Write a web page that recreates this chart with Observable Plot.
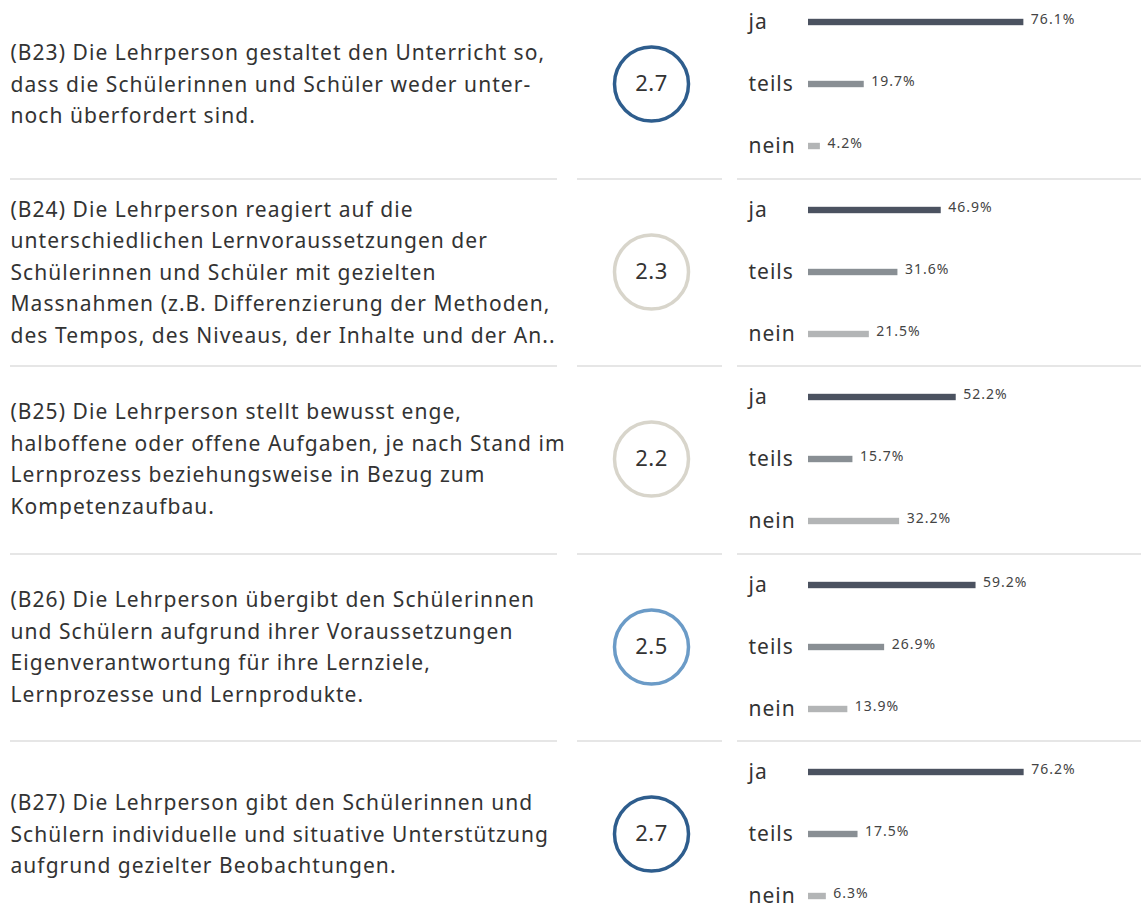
<!DOCTYPE html>
<html>
<head>
<meta charset="utf-8">
<script src="https://cdn.jsdelivr.net/npm/d3@7"></script>
<script src="https://cdn.jsdelivr.net/npm/@observablehq/plot@0.6"></script>
<style>
  html, body { margin: 0; padding: 0; background: #fff; }
  #chart { position: relative; width: 1141px; height: 906px; overflow: hidden; font-family: "Noto Sans", sans-serif; }
  .row { position: absolute; left: 0; width: 1141px; height: 187.5px; }
  .cell { position: absolute; top: 0; }
  .sep { position: absolute; height: 2px; background: #e6e6e6; }
  svg { display: block; }
</style>
</head>
<body>
<div id="chart"></div>
<script>
const questionIds = ["B23", "B24", "B25", "B26", "B27"];
const questionTexts = [
  "(B23) Die Lehrperson gestaltet den Unterricht so,\ndass die Schülerinnen und Schüler weder unter-\nnoch überfordert sind.",
  "(B24) Die Lehrperson reagiert auf die\nunterschiedlichen Lernvoraussetzungen der\nSchülerinnen und Schüler mit gezielten\nMassnahmen (z.B. Differenzierung der Methoden,\ndes Tempos, des Niveaus, der Inhalte und der An..",
  "(B25) Die Lehrperson stellt bewusst enge,\nhalboffene oder offene Aufgaben, je nach Stand im\nLernprozess beziehungsweise in Bezug zum\nKompetenzaufbau.",
  "(B26) Die Lehrperson übergibt den Schülerinnen\nund Schülern aufgrund ihrer Voraussetzungen\nEigenverantwortung für ihre Lernziele,\nLernprozesse und Lernprodukte.",
  "(B27) Die Lehrperson gibt den Schülerinnen und\nSchülern individuelle und situative Unterstützung\naufgrund gezielter Beobachtungen."
];
const scores = [2.7, 2.3, 2.2, 2.5, 2.7];
const categories = ["ja", "teils", "nein"];
const jaValues = [76.1, 46.9, 52.2, 59.2, 76.2];
const teilsValues = [19.7, 31.6, 15.7, 26.9, 17.5];
const neinValues = [4.2, 21.5, 32.2, 13.9, 6.3];

const barColors = ["#4b5260", "#898f94", "#b3b5b6"];
const scoreColors = ["#d8d5cb", "#6b9bc7", "#2e5d8d"];
const scoreThresholds = [2.4, 2.6];

const font = "Noto Sans";
const rowH = 187.5;
const chart = document.getElementById("chart");

questionIds.forEach((id, i) => {
  const row = document.createElement("div");
  row.className = "row";
  row.style.top = (-9 + i * rowH) + "px";
  chart.appendChild(row);

  // question text
  const textCell = document.createElement("div");
  textCell.className = "cell";
  textCell.style.left = "0px";
  textCell.appendChild(Plot.plot({
    width: 575, height: 188, margin: 0,
    style: {fontFamily: font, background: "transparent", letterSpacing: "1.05px"},
    marks: [
      Plot.text([questionTexts[i]], {
        text: d => d, frameAnchor: "left", dx: 10, dy: -4, textAnchor: "start",
        lineAnchor: "middle", fontSize: 21, lineHeight: 1.5, fill: "#333"
      })
    ]
  }));
  row.appendChild(textCell);

  // score circle
  const circCell = document.createElement("div");
  circCell.className = "cell";
  circCell.style.left = "577px";
  circCell.appendChild(Plot.plot({
    width: 148, height: 188, margin: 0,
    style: {fontFamily: font, background: "transparent", letterSpacing: "0.5px"},
    color: {type: "threshold", domain: scoreThresholds, range: scoreColors},
    marks: [
      Plot.dot([scores[i]], {frameAnchor: "middle", dy: -1.5, r: 37, stroke: d => d, strokeWidth: 3.5, fill: "white"}),
      Plot.text([scores[i]], {frameAnchor: "middle", dy: -1.5, text: d => d.toFixed(1), fontSize: 22, fill: "#333"})
    ]
  }));
  row.appendChild(circCell);

  // bars
  const vals = [jaValues[i], teilsValues[i], neinValues[i]];
  const data = categories.map((c, k) => ({cat: c, value: vals[k]}));
  const barCell = document.createElement("div");
  barCell.className = "cell";
  barCell.style.left = "737px";
  barCell.appendChild(Plot.plot({
    width: 404, height: 188,
    marginLeft: 71, marginRight: 50, marginTop: 0, marginBottom: 0,
    style: {fontFamily: font, background: "transparent", letterSpacing: "1px"},
    x: {domain: [0, 100], axis: null},
    y: {domain: categories, axis: null, padding: 0},
    color: {domain: categories, range: barColors},
    marks: [
      Plot.barX(data, {x: "value", y: "cat", fill: "cat", dy: -1, insetTop: 27.8, insetBottom: 27.8}),
      Plot.text(data, {x: "value", y: "cat", text: d => d.value.toFixed(1) + "%", dx: 7, dy: -4, textAnchor: "start", fontSize: 14, fill: "#444"}),
      Plot.text(data, {y: "cat", text: "cat", frameAnchor: "left", dx: -60, dy: -1, textAnchor: "start", fontSize: 21, fill: "#333"})
    ]
  }));
  row.appendChild(barCell);

  // separators at bottom of row
  if (i < questionIds.length - 1) {
    [[10, 557], [577, 722], [737, 1141]].forEach(([a, b]) => {
      const s = document.createElement("div");
      s.className = "sep";
      s.style.left = a + "px";
      s.style.width = (b - a) + "px";
      s.style.top = (rowH - 1) + "px";
      row.appendChild(s);
    });
  }
});
</script>
</body>
</html>
